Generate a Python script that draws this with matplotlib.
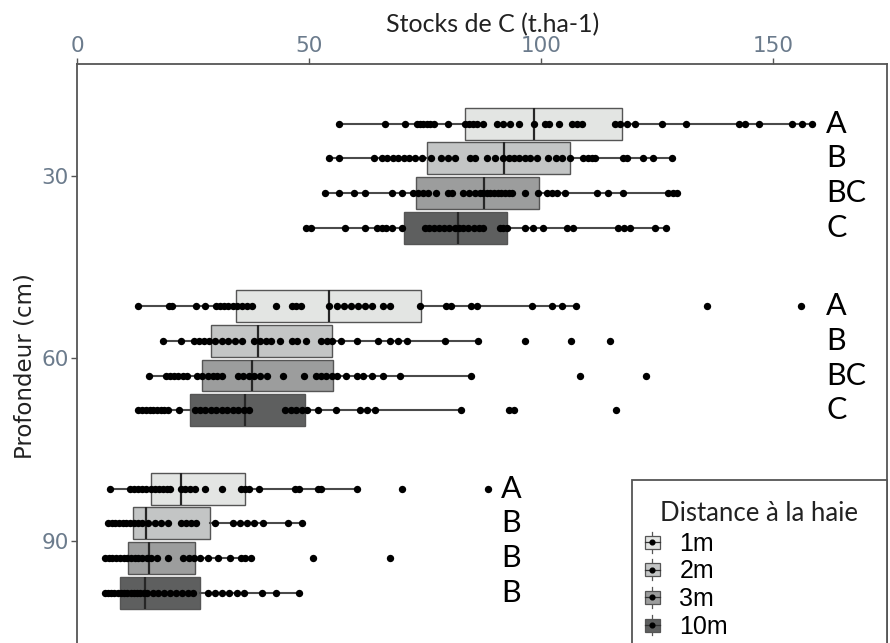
import matplotlib
matplotlib.use("Agg")
import matplotlib.pyplot as plt
from matplotlib.patches import Rectangle, Patch
from matplotlib.lines import Line2D
from matplotlib.legend_handler import HandlerBase

# ---------------- data ----------------
depths = [30, 60, 90]
distances = ["1m", "2m", "3m", "10m"]
box_colors = ["#e3e5e3", "#c3c5c5", "#9c9d9d", "#5e5f5f"]

letters_30 = ["A", "B", "BC", "C"]
letters_60 = ["A", "B", "BC", "C"]
letters_90 = ["A", "B", "B", "B"]

# box statistics (1m, 2m, 3m, 10m)
q1_30 = [83.6, 75.4, 72.9, 70.5]
med_30 = [98.4, 92.0, 87.6, 82.0]
q3_30 = [117.5, 106.2, 99.6, 92.6]
wlo_30 = [56.5, 54.3, 53.3, 49.4]
whi_30 = [158.3, 128.1, 129.2, 126.9]

q1_60 = [34.3, 28.9, 26.8, 24.3]
med_60 = [54.3, 39.0, 37.6, 36.2]
q3_60 = [74.0, 54.9, 55.2, 49.1]
wlo_60 = [13.2, 18.4, 15.4, 13.2]
whi_60 = [107.5, 86.4, 84.9, 82.8]

q1_90 = [16.0, 12.0, 11.0, 9.3]
med_90 = [22.3, 14.9, 15.4, 14.7]
q3_90 = [36.2, 28.7, 25.3, 26.5]
wlo_90 = [7.1, 6.6, 6.0, 5.9]
whi_90 = [60.4, 48.4, 37.4, 47.7]

# individual observations
pts_30_1m = [56.5, 66.3, 70.7, 73.2, 73.9, 74.6, 75.3, 76.0, 76.8, 79.9, 83.6, 84.4, 85.3,
             86.2, 87.4, 90.4, 91.8, 93.3, 95.2, 98.5, 100.8, 101.6, 103.9, 106.6, 107.6,
             108.7, 115.9, 117.0, 118.4, 120.1, 126.0, 131.1, 142.6, 143.8, 147.0, 154.0,
             156.2, 158.3]
pts_30_2m = [54.3, 56.5, 63.9, 65.6, 66.8, 68.0, 69.2, 70.4, 71.6, 72.8, 74.4, 76.2, 78.5,
             79.8, 81.4, 84.6, 85.7, 88.3, 90.0, 91.8, 93.0, 94.2, 95.3, 96.4, 97.5, 99.0,
             101.5, 103.2, 104.5, 106.2, 109.0, 110.0, 111.0, 111.6, 117.7, 118.5, 122.0,
             124.0, 128.1]
pts_30_3m = [53.3, 56.5, 59.7, 62.1, 67.8, 70.0, 72.4, 73.5, 74.6, 75.6, 77.3, 80.0, 80.7,
             83.2, 84.5, 85.7, 86.8, 87.5, 88.3, 89.0, 89.8, 90.6, 91.4, 92.2, 93.0, 93.7,
             96.5, 99.3, 101.2, 102.3, 103.3, 105.1, 112.0, 114.4, 117.6, 127.3, 128.3, 129.2]
pts_30_10m = [49.4, 50.4, 57.7, 62.1, 64.6, 65.6, 66.6, 67.8, 70.0, 74.9, 75.9, 76.9, 78.0,
              79.0, 80.2, 81.4, 82.3, 83.2, 84.3, 85.4, 86.5, 87.5, 91.1, 91.8, 92.6, 96.5,
              98.3, 100.4, 105.5, 106.9, 116.6, 117.8, 119.1, 124.5, 126.9]

pts_60_1m = [13.2, 19.8, 20.5, 25.7, 27.6, 29.9, 30.8, 31.7, 32.6, 33.5, 34.5, 35.5, 36.6,
             37.7, 42.9, 46.2, 47.2, 48.2, 54.3, 56.0, 57.5, 59.0, 60.5, 62.0, 63.6, 66.0,
             67.5, 73.9, 79.4, 80.6, 84.9, 86.1, 97.9, 102.3, 104.5, 107.5, 135.7, 156.0]
pts_60_2m = [18.4, 22.3, 25.2, 26.3, 27.4, 28.5, 29.6, 31.1, 32.6, 34.1, 35.5, 38.2, 39.4,
             40.6, 41.8, 43.6, 46.2, 47.3, 49.4, 52.6, 53.8, 55.0, 56.8, 60.4, 64.8, 67.5,
             69.2, 71.0, 79.3, 86.4, 96.5, 106.4, 114.9]
pts_60_3m = [15.4, 19.1, 20.0, 20.9, 21.8, 22.7, 23.7, 25.9, 27.0, 28.1, 29.2, 30.2, 31.3,
             34.7, 35.8, 37.0, 38.1, 39.3, 40.9, 44.3, 48.9, 51.4, 52.5, 53.7, 54.8, 56.0,
             58.0, 60.2, 61.6, 63.6, 66.0, 69.5, 84.9, 108.3, 122.6]
pts_60_10m = [13.2, 14.0, 14.8, 15.6, 16.4, 17.2, 18.0, 18.8, 19.6, 22.0, 25.4, 26.5, 27.6,
              28.8, 29.9, 31.1, 32.3, 33.5, 34.7, 35.9, 37.0, 44.8, 46.0, 47.2, 48.4, 49.6,
              51.9, 55.8, 60.9, 62.5, 64.1, 82.8, 93.0, 94.2, 116.1]

pts_90_1m = [7.1, 11.3, 12.2, 13.1, 14.0, 14.9, 15.8, 16.7, 17.6, 18.5, 19.3, 20.1, 22.3,
             23.3, 24.3, 25.3, 27.6, 31.1, 35.2, 36.2, 37.1, 39.1, 47.0, 47.8, 51.9, 52.6,
             60.4, 70.0, 88.6]
pts_90_2m = [6.6, 7.4, 8.2, 9.0, 9.8, 10.6, 11.4, 12.2, 13.0, 13.9, 15.3, 16.7, 18.1, 19.5,
             22.3, 23.5, 24.6, 25.7, 29.6, 33.5, 35.0, 36.5, 38.2, 40.1, 45.5, 48.4]
pts_90_3m = [6.0, 6.8, 7.6, 8.4, 9.2, 10.0, 10.8, 11.6, 12.4, 13.2, 13.9, 15.0, 16.0, 17.1,
             19.5, 22.8, 24.0, 25.2, 26.5, 28.1, 30.3, 33.0, 35.2, 36.2, 37.4, 50.9, 67.3]
pts_90_10m = [5.9, 6.6, 7.3, 8.0, 8.7, 9.4, 10.1, 10.8, 11.5, 12.2, 12.9, 13.6, 14.3, 15.0,
              16.3, 17.5, 18.8, 20.0, 21.3, 22.5, 23.8, 25.0, 28.1, 29.6, 31.2, 32.8, 34.4,
              36.0, 39.9, 42.8, 47.7]

stats_by_depth = {
    30: (q1_30, med_30, q3_30, wlo_30, whi_30, letters_30,
         [pts_30_1m, pts_30_2m, pts_30_3m, pts_30_10m]),
    60: (q1_60, med_60, q3_60, wlo_60, whi_60, letters_60,
         [pts_60_1m, pts_60_2m, pts_60_3m, pts_60_10m]),
    90: (q1_90, med_90, q3_90, wlo_90, whi_90, letters_90,
         [pts_90_1m, pts_90_2m, pts_90_3m, pts_90_10m]),
}
letter_x = {30: 161.4, 60: 161.4, 90: 91.3}

# ---------------- layout ----------------
W, H = 890, 643
fig = plt.figure(figsize=(W / 100, H / 100), dpi=100)
x_left_px, x_right_px = 77.2, 887.0
top_px = 64.0
px_per_unit_y = 6.083
y_top_val, y_bot_val = 11.64, 110.0
ax_h_px = (y_bot_val - y_top_val) * px_per_unit_y
ax = fig.add_axes([x_left_px / W, 1 - (top_px + ax_h_px) / H,
                   (x_right_px - x_left_px) / W, ax_h_px / H])
ax.set_xlim(0, 174.5)
ax.set_ylim(y_bot_val, y_top_val)

offsets = [-8.55, -2.85, 2.85, 8.55]
box_w = 5.25
edge_col = "#555555"

for d in depths:
    q1, med, q3, wlo, whi, lets, pts = stats_by_depth[d]
    pos = [d + o for o in offsets]
    bstats = [dict(q1=q1[i], med=med[i], q3=q3[i], whislo=wlo[i], whishi=whi[i], fliers=[])
              for i in range(4)]
    res = ax.bxp(bstats, positions=pos, widths=box_w, orientation="horizontal",
                 patch_artist=True, showfliers=False, showcaps=False, manage_ticks=False,
                 boxprops=dict(edgecolor=edge_col, linewidth=1.0),
                 whiskerprops=dict(color="#4a4a4a", linewidth=1.5),
                 medianprops=dict(color="#262626", linewidth=1.6))
    for patch, c in zip(res["boxes"], box_colors):
        patch.set_facecolor(c)
        patch.set_zorder(2)
    for i in range(4):
        ax.scatter(pts[i], [pos[i]] * len(pts[i]), s=28, color="black", linewidths=0, zorder=4)
        ax.text(letter_x[d], pos[i], lets[i], ha="left", va="center",
                fontsize=22, family="Lato", color="black")

# axes styling
tick_col = "#6b7b8c"
for sp in ax.spines.values():
    sp.set_color(edge_col)
    sp.set_linewidth(1.3)
ax.xaxis.tick_top()
ax.set_xticks([0, 50, 100, 150])
ax.set_yticks([30, 60, 90])
ax.tick_params(axis="both", colors=edge_col, length=4, width=1.0)
ax.tick_params(axis="x", pad=1.5, labelsize=15.5, labelcolor=tick_col)
ax.tick_params(axis="y", pad=2, labelsize=15.5, labelcolor=tick_col)
for lab in ax.get_xticklabels() + ax.get_yticklabels():
    lab.set_family(["Liberation Sans Narrow", "DejaVu Sans"])

ax.set_ylabel("Profondeur (cm)", fontsize=16.5, family="DejaVu Sans", color="#222222",
              va="center")
ax.yaxis.set_label_coords((25 - x_left_px) / (x_right_px - x_left_px),
                          (top_px + ax_h_px - 366) / ax_h_px)
fig.text(493 / W, 1 - 25 / H, "Stocks de C (t.ha-1)", ha="center", va="center",
         fontsize=18, family="Lato", color="#222222")


# legend with boxplot glyphs
class BoxGlyph(HandlerBase):
    def create_artists(self, legend, orig_handle, xdescent, ydescent, width, height,
                       fontsize, trans):
        cx = -xdescent + width / 2 - 6.0
        cy = -ydescent + height / 2
        bw, bh, wl = 11.0, 9.4, 7.5
        fc = orig_handle.get_facecolor()
        vline = Line2D([cx, cx], [cy - wl, cy + wl], color=edge_col, lw=0.9, transform=trans)
        rect = Rectangle((cx - bw / 2, cy - bh / 2), bw, bh, facecolor=fc,
                         edgecolor=edge_col, lw=0.9, transform=trans)
        hline = Line2D([cx - bw / 2, cx + bw / 2], [cy, cy], color="#333333", lw=0.9,
                       transform=trans)
        dot = Line2D([cx], [cy], marker="o", ms=3.4, color="black", lw=0, transform=trans)
        return [vline, rect, hline, dot]


handles = [Patch(facecolor=c, edgecolor=edge_col) for c in box_colors]
leg = ax.legend(handles, distances, title="Distance à la haie",
                handler_map={Patch: BoxGlyph()},
                loc="upper left",
                bbox_to_anchor=(632 / W, 1 - 480 / H, (x_right_px - 632) / W, 0),
                bbox_transform=fig.transFigure, mode="expand", borderaxespad=0,
                handlelength=0.6, handleheight=1.08,
                handletextpad=0.45, labelspacing=0.09, borderpad=0.85,
                fancybox=False, framealpha=1, edgecolor=edge_col,
                prop={"family": "Liberation Sans", "size": 18})
leg.get_frame().set_linewidth(1.3)
leg.get_title().set_family("Lato")
leg.get_title().set_fontsize(18.5)
leg.get_title().set_color("#222222")
leg._legend_box.sep = 3

fig.savefig("out.png", dpi=100)
